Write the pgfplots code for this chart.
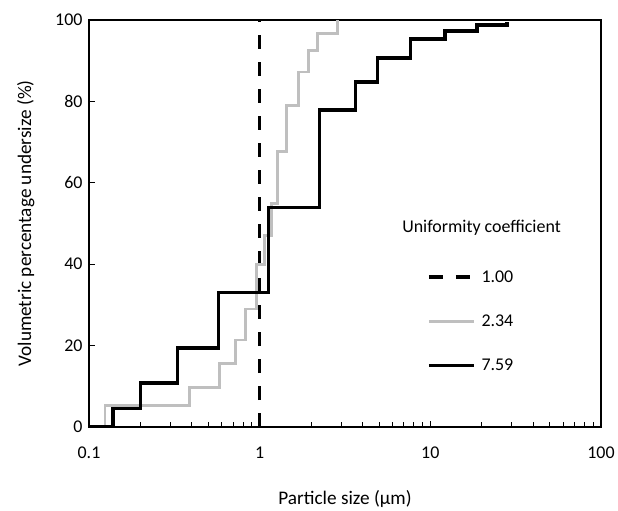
\documentclass[border=0pt]{standalone}
\usepackage{fontspec}
\setmainfont{Carlito}
\usepackage{pgfplots}
\pgfplotsset{compat=1.18}

\begin{document}
\begin{tikzpicture}
\begin{axis}[
	scale only axis,
	width=512bp, height=407bp,
	xmode=log,
	xmin=0.1, xmax=100,
	ymin=0, ymax=100,
	xtick={0.1,1,10,100},
	xticklabels={0.1,1,10,100},
	ytick={0,20,40,60,80,100},
	tick align=inside,
	xtick pos=bottom, ytick pos=left,
	major tick length=6bp, minor tick length=5bp,
	every tick/.style={black, line width=0.8bp},
	axis line style={line width=2.8bp},
	/pgf/number format/assume math mode=true,
	tick label style={font=\fontsize{18}{20}\selectfont},
	label style={font=\fontsize{19.3}{22}\selectfont},
	xticklabel style={yshift=-16bp},
	yticklabel style={xshift=-3bp},
	xlabel={Particle size (µm)},
	ylabel={Volumetric percentage undersize (\%)},
	xlabel style={yshift=-25bp},
	ylabel style={yshift=14bp},
	legend style={draw=none, fill=none, at={(0.66,0.39)}, anchor=north west,
		font=\fontsize{18}{20}\selectfont, row sep=27bp, inner sep=0pt},
	legend cell align=left,
	legend image code/.code={\draw[#1] (0bp,0bp) -- (45bp,0bp); \path (49bp,0bp);},
]

% uniformity coefficient 1.00
\addplot[black, line width=3.2bp, dash pattern=on 14bp off 13bp]
coordinates {(1,0) (1,100)};
\addlegendentry{1.00}

% uniformity coefficient 2.34
\addplot[gray!50, line width=2.8bp, const plot]
coordinates {
(0.1,0)
(0.124,5.2)
(0.39,9.8)
(0.58,15.7)
(0.72,21.4)
(0.83,29)
(0.96,40)
(1.07,47)
(1.17,55)
(1.27,67.6)
(1.44,78.9)
(1.69,87.2)
(1.94,92.6)
(2.18,96.6)
(2.86,100)
};
\addlegendentry{2.34}

% uniformity coefficient 7.59
\addplot[black, line width=3.4bp, const plot]
coordinates {
(0.1,0)
(0.138,4.5)
(0.201,10.8)
(0.331,19.4)
(0.575,33)
(1.13,54)
(2.24,77.9)
(3.64,84.8)
(4.9,90.7)
(7.64,95.3)
(12.2,97.3)
(18.8,98.8)
(28.2,99.5)
};
\addlegendentry{7.59}

\node[anchor=west, font=\fontsize{18}{20}\selectfont] at (rel axis cs:0.605,0.489) {Uniformity coefficient};
\end{axis}
\path ([shift={(-89bp,-74bp)}]current axis.south west) rectangle ([shift={(17bp,20bp)}]current axis.north east);
\end{tikzpicture}
\end{document}
